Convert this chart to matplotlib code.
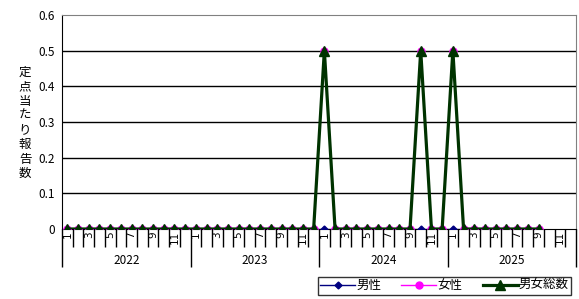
import numpy as np
import matplotlib
matplotlib.use('Agg')
import matplotlib.pyplot as plt

plt.rcParams['font.family'] = ['Noto Sans CJK JP', 'DejaVu Sans']

##### DATEN #####
years = ['2022', '2023', '2024', '2025']
months = [str(m) for m in range(1, 13)]
# 2022-01 .. 2025-09
male = [0.0] * 45
female = [0, 0, 0, 0, 0, 0, 0, 0, 0, 0, 0, 0,
          0, 0, 0, 0, 0, 0, 0, 0, 0, 0, 0, 0,
          0.5, 0, 0, 0, 0, 0, 0, 0, 0, 0.5, 0, 0,
          0.5, 0, 0, 0, 0, 0, 0, 0, 0]
total = [0, 0, 0, 0, 0, 0, 0, 0, 0, 0, 0, 0,
         0, 0, 0, 0, 0, 0, 0, 0, 0, 0, 0, 0,
         0.5, 0, 0, 0, 0, 0, 0, 0, 0, 0.5, 0, 0,
         0.5, 0, 0, 0, 0, 0, 0, 0, 0]
yticks = [0, 0.1, 0.2, 0.3, 0.4, 0.5, 0.6]
ytick_labels = ['0', '0.1', '0.2', '0.3', '0.4', '0.5', '0.6']
ylabel = '定点当たり報告数'

n_cat = len(years) * len(months)
x = np.arange(len(total))

##### PLOTTEN #####
fig = plt.figure(figsize=(5.79, 2.99), dpi=100)
ax = fig.add_axes([62/579, 1-229/299, (576-62)/579, (229-15)/299])

for y in yticks[1:-1]:
    ax.axhline(y, color='black', lw=1, zorder=1)

ax.plot(x, male, color='#000080', lw=1, marker='D', ms=3.5, label='男性', zorder=3)
ax.plot(x, female, color='#FF00FF', lw=1, marker='o', ms=5, label='女性', zorder=4)
ax.plot(x, total, color='#003300', lw=2.3, marker='^', ms=6.5, label='男女総数', zorder=5)

ax.set_xlim(-0.5, n_cat - 0.5)
ax.set_ylim(0, 0.6)
ax.set_yticks(yticks)
ax.set_yticklabels(ytick_labels, fontsize=8.5)
ax.tick_params(axis='y', length=0, pad=5)

# Kategorie-Ticks
ax.set_xticks(np.arange(-0.5, n_cat, 12))
ax.set_xticklabels([])
ax.set_xticks(np.arange(-0.5, n_cat, 1), minor=True)
ax.tick_params(axis='x', which='major', length=27.5, width=1, color='black')
ax.tick_params(axis='x', which='minor', length=13, width=1, color='black')

for i in range(n_cat):
    m = months[i % 12]
    if (i % 12) % 2 == 0:
        ax.annotate(m, xy=(i, 0), xycoords='data', xytext=(0, -2),
                    textcoords='offset pixels', rotation=90, ha='center', va='top',
                    fontsize=7.5, family='DejaVu Sans')
for k, yr in enumerate(years):
    ax.annotate(yr, xy=(k*12 + 5.5, 0), xycoords='data', xytext=(0, -32),
                textcoords='offset pixels', ha='center', va='center', fontsize=8.5)

for s in ['top', 'right']:
    ax.spines[s].set_color('#808080')
for s in ['left', 'bottom']:
    ax.spines[s].set_color('black')

# Y-Beschriftung, Zeichen untereinander
for j, ch in enumerate(ylabel):
    fig.text(25/579, 1-(72 + j*14.5)/299, ch, ha='center', va='center', fontsize=9)

leg = fig.legend(loc='center', bbox_to_anchor=(444.5/579, 1-285.5/299), ncol=3,
                 fontsize=9, frameon=True, fancybox=False, edgecolor='black',
                 handlelength=2.8, columnspacing=1.6, handletextpad=0.1,
                 borderpad=0.2)
leg.get_frame().set_linewidth(1)

plt.savefig('out.png', dpi=100)
